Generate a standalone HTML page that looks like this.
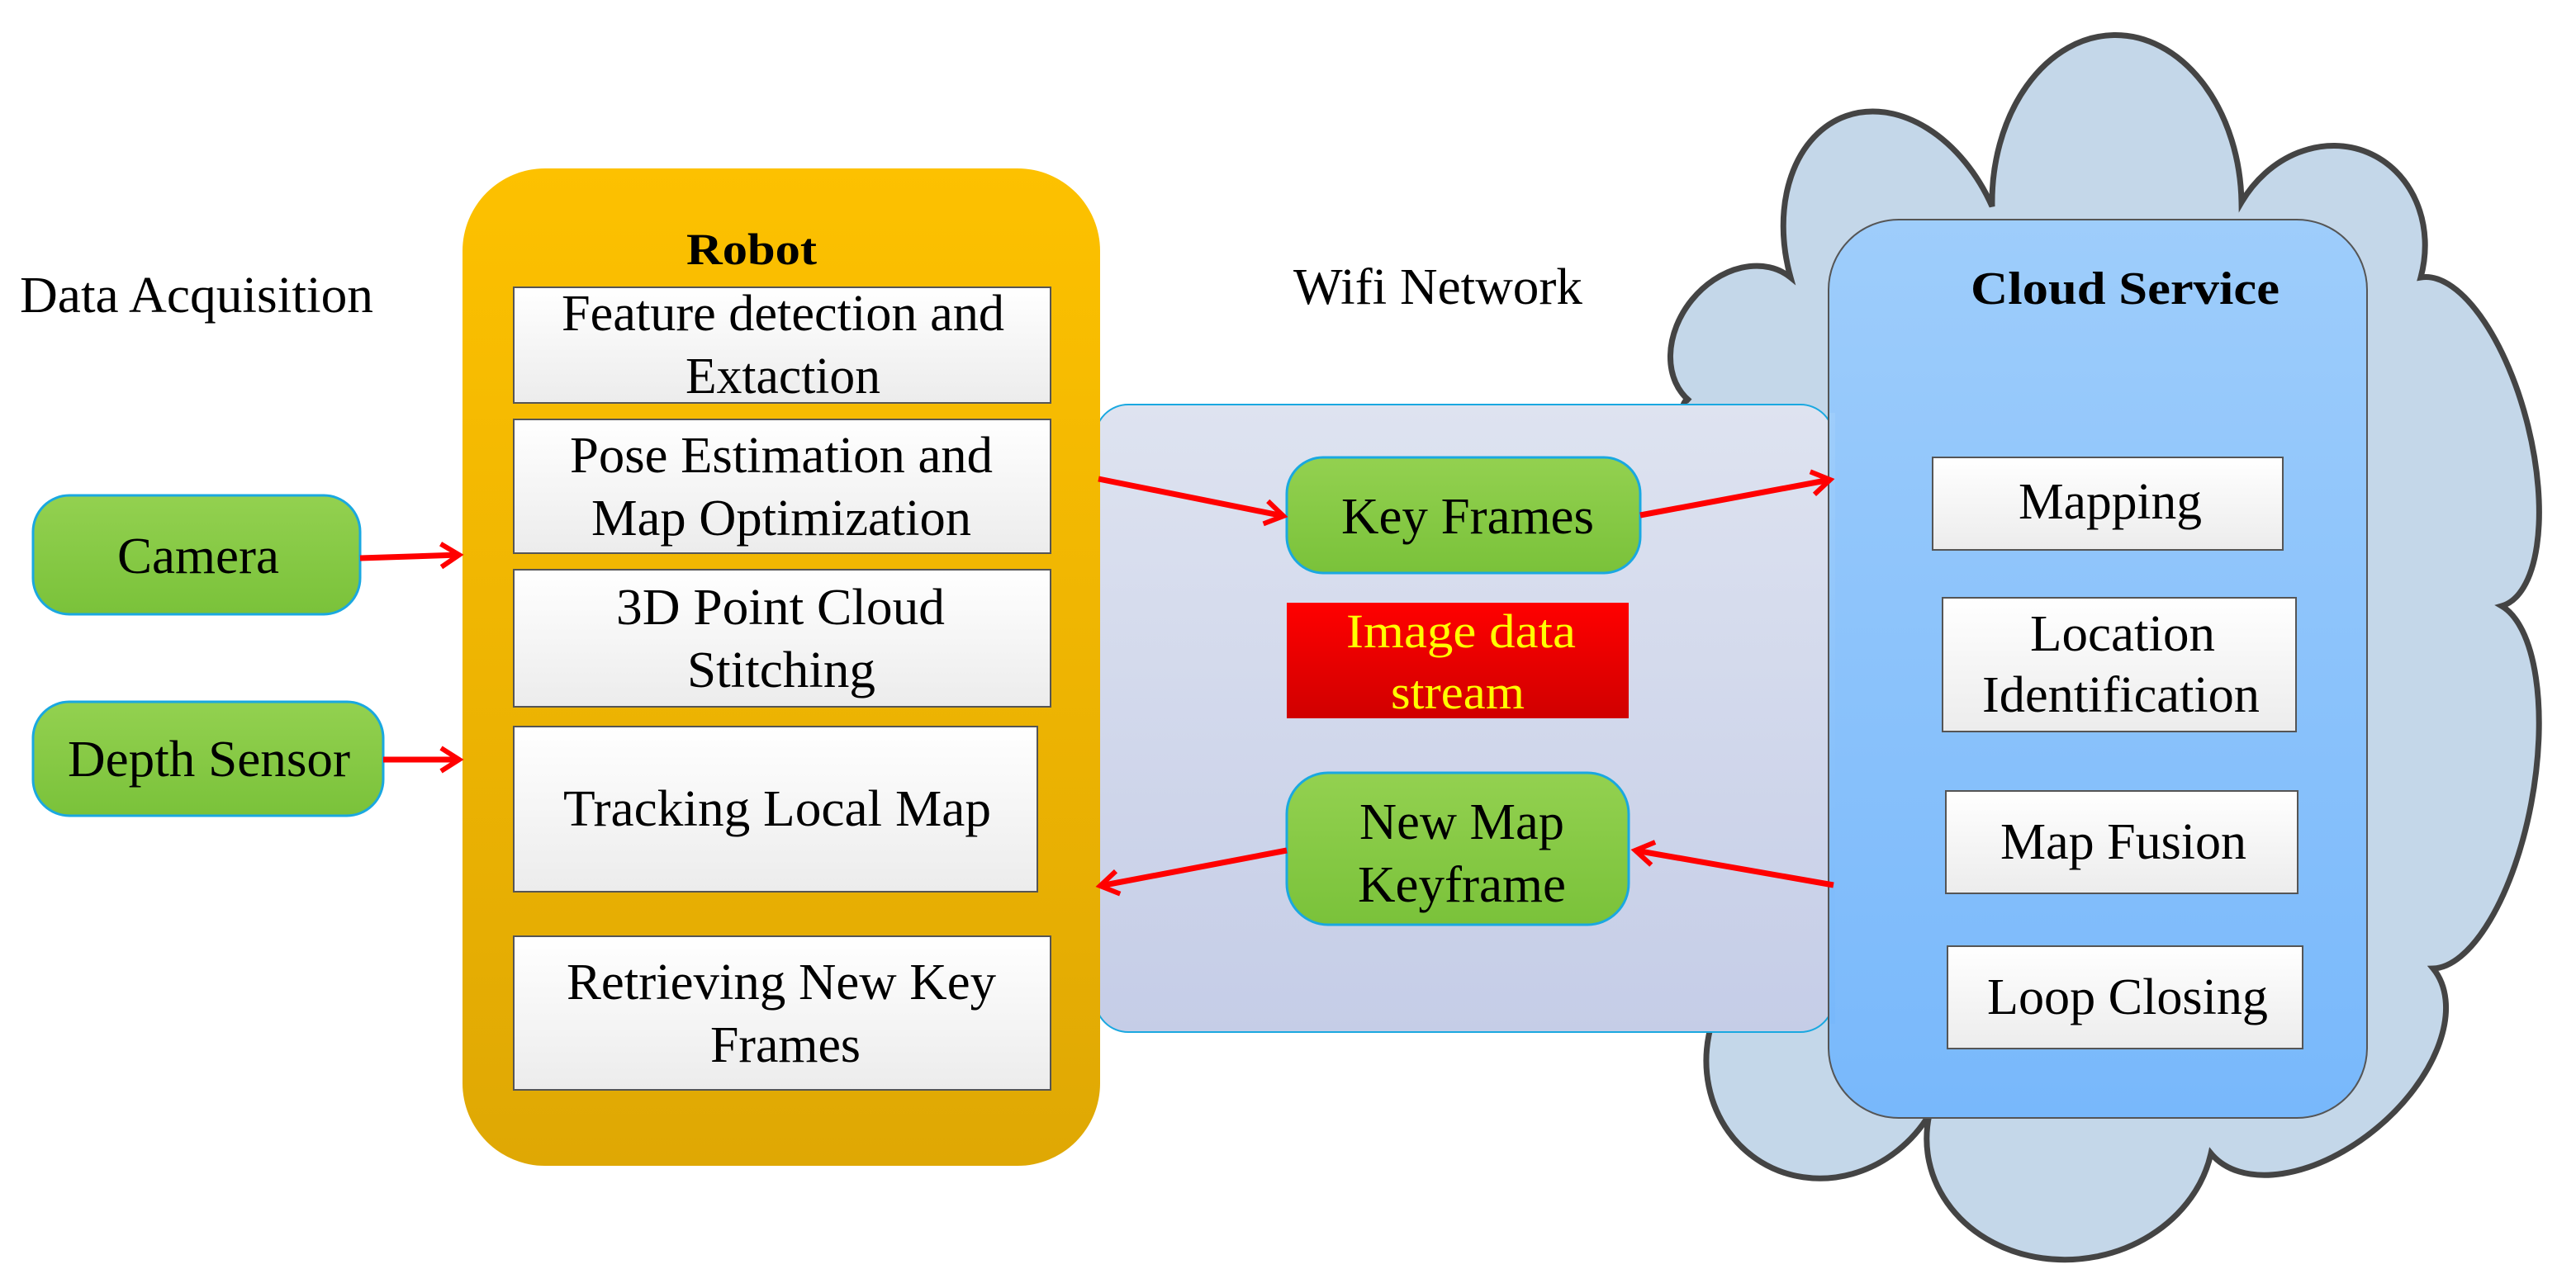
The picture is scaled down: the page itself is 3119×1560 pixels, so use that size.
<!DOCTYPE html>
<html><head><meta charset="utf-8"><style>
html,body{margin:0;padding:0;background:#fff}
svg{display:block}
text{font-family:"Liberation Serif",serif;fill:#000}
</style></head><body>
<svg width="3119" height="1560" viewBox="0 0 3119 1560" xmlns="http://www.w3.org/2000/svg">
<defs>
<linearGradient id="rob" x1="0" y1="0" x2="0" y2="1"><stop offset="0" stop-color="#fdc100"/><stop offset="1" stop-color="#dfa804"/></linearGradient>
<linearGradient id="box" x1="0" y1="0" x2="0" y2="1"><stop offset="0" stop-color="#ffffff"/><stop offset="1" stop-color="#ececec"/></linearGradient>
<linearGradient id="grn" x1="0" y1="0" x2="0" y2="1"><stop offset="0" stop-color="#93d150"/><stop offset="1" stop-color="#7ac23a"/></linearGradient>
<linearGradient id="wifi" x1="0" y1="0" x2="0" y2="1"><stop offset="0" stop-color="#dee3f0"/><stop offset="1" stop-color="#c5cde7"/></linearGradient>
<linearGradient id="cs" x1="0" y1="0" x2="0" y2="1"><stop offset="0" stop-color="#9ecdfb"/><stop offset="1" stop-color="#78b8fb"/></linearGradient>
<linearGradient id="red" x1="0" y1="0" x2="0" y2="1"><stop offset="0" stop-color="#ff0000"/><stop offset="1" stop-color="#d00000"/></linearGradient>
<marker id="ah" markerWidth="10" markerHeight="10" refX="8" refY="5" orient="auto" markerUnits="userSpaceOnUse" viewBox="0 0 10 10" style="overflow:visible">
<polyline points="-14,-9 8,5 -14,19" fill="none" stroke="#ff0000" stroke-width="6"/>
</marker>
</defs>

<!-- cloud -->
<path d="M2168,336 A130,180 -20 0 1 2412,250 A151,205 -1 0 1 2714,245 A119,135 23 0 1 2931,336 A205,85 76 0 1 3029,734 A225,90 100 0 1 2946,1173 A175,105 140 0 1 2677,1397 A172,150 172 0 1 2336,1350 A144,155 211 0 1 2090,1200 A357,30 266 0 1 2046,486 A96,75 -51 0 1 2168,336 Z" fill="#c4d7e9" stroke="#444" stroke-width="7"/>

<!-- cloud service box -->
<rect x="2214" y="266" width="652" height="1088" rx="85" ry="85" fill="url(#cs)" stroke="#555" stroke-width="2"/>

<!-- wifi panel -->
<rect x="1326" y="490" width="894" height="760" rx="40" ry="40" fill="url(#wifi)" stroke="#1aa8e0" stroke-width="2"/>
<rect x="2214" y="500" width="8" height="740" fill="url(#cs)"/>
<line x1="2214" y1="500" x2="2214" y2="1240" stroke="#555" stroke-width="2"/>

<!-- robot -->
<rect x="560" y="204" width="772" height="1208" rx="100" ry="100" fill="url(#rob)"/>
<text x="831" y="320" font-size="54" font-weight="bold" textLength="158" lengthAdjust="spacingAndGlyphs">Robot</text>

<g stroke="#555" stroke-width="2" fill="url(#box)">
<rect x="622" y="348" width="650" height="140"/>
<rect x="622" y="508" width="650" height="162"/>
<rect x="622" y="690" width="650" height="166"/>
<rect x="622" y="880" width="634" height="200"/>
<rect x="622" y="1134" width="650" height="186"/>
<rect x="2340" y="554" width="424" height="112"/>
<rect x="2352" y="724" width="428" height="162"/>
<rect x="2356" y="958" width="426" height="124"/>
<rect x="2358" y="1146" width="430" height="124"/>
</g>
<g font-size="62" lengthAdjust="spacingAndGlyphs">
<text x="680" y="400" textLength="536" lengthAdjust="spacingAndGlyphs">Feature detection and</text>
<text x="830" y="476" textLength="236" lengthAdjust="spacingAndGlyphs">Extaction</text>
<text x="690" y="572" textLength="512" lengthAdjust="spacingAndGlyphs">Pose Estimation and</text>
<text x="716" y="648" textLength="460" lengthAdjust="spacingAndGlyphs">Map Optimization</text>
<text x="746" y="756" textLength="398" lengthAdjust="spacingAndGlyphs">3D Point Cloud</text>
<text x="832" y="832" textLength="228" lengthAdjust="spacingAndGlyphs">Stitching</text>
<text x="682" y="1000" textLength="518" lengthAdjust="spacingAndGlyphs">Tracking Local Map</text>
<text x="686" y="1210" textLength="520" lengthAdjust="spacingAndGlyphs">Retrieving New Key</text>
<text x="860" y="1286" textLength="182" lengthAdjust="spacingAndGlyphs">Frames</text>

<text x="2444" y="628" textLength="222" lengthAdjust="spacingAndGlyphs">Mapping</text>
<text x="2458" y="788" textLength="224" lengthAdjust="spacingAndGlyphs">Location</text>
<text x="2400" y="862" textLength="336" lengthAdjust="spacingAndGlyphs">Identification</text>
<text x="2422" y="1040" textLength="298" lengthAdjust="spacingAndGlyphs">Map Fusion</text>
<text x="2406" y="1228" textLength="340" lengthAdjust="spacingAndGlyphs">Loop Closing</text>
<text x="2386" y="368" font-size="56" font-weight="bold" textLength="374" lengthAdjust="spacingAndGlyphs">Cloud Service</text>

<text x="24" y="378" textLength="428" lengthAdjust="spacingAndGlyphs">Data Acquisition</text>
<text x="1566" y="368" textLength="350" lengthAdjust="spacingAndGlyphs">Wifi Network</text>
</g>

<!-- green nodes -->
<g fill="url(#grn)" stroke="#1aa8e0" stroke-width="3">
<rect x="40" y="600" width="396" height="144" rx="44" ry="44"/>
<rect x="40" y="850" width="424" height="138" rx="44" ry="44"/>
<rect x="1558" y="554" width="428" height="140" rx="44" ry="44"/>
<rect x="1558" y="936" width="414" height="184" rx="50" ry="50"/>
</g>
<g font-size="62">
<text x="142" y="694" textLength="196" lengthAdjust="spacingAndGlyphs">Camera</text>
<text x="82" y="940" textLength="342" lengthAdjust="spacingAndGlyphs">Depth Sensor</text>
<text x="1624" y="646" textLength="306" lengthAdjust="spacingAndGlyphs">Key Frames</text>
<text x="1646" y="1016" textLength="248" lengthAdjust="spacingAndGlyphs">New Map</text>
<text x="1644" y="1092" textLength="252" lengthAdjust="spacingAndGlyphs">Keyframe</text>
</g>

<rect x="1558" y="730" width="414" height="140" fill="url(#red)"/>
<g font-size="58">
<text x="1630" y="784" style="fill:#ffff00" textLength="278" lengthAdjust="spacingAndGlyphs">Image data</text>
<text x="1684" y="858" style="fill:#ffff00" textLength="162" lengthAdjust="spacingAndGlyphs">stream</text>
</g>

<!-- arrows -->
<g stroke="#ff0000" stroke-width="7" fill="none" marker-end="url(#ah)">
<line x1="436" y1="676" x2="556" y2="672"/>
<line x1="464" y1="920" x2="556" y2="920"/>
<line x1="1330" y1="580" x2="1554" y2="625"/>
<line x1="1986" y1="624" x2="2216" y2="581"/>
<line x1="2220" y1="1072" x2="1980" y2="1030"/>
<line x1="1558" y1="1030" x2="1332" y2="1073"/>
</g>
</svg>
</body></html>
